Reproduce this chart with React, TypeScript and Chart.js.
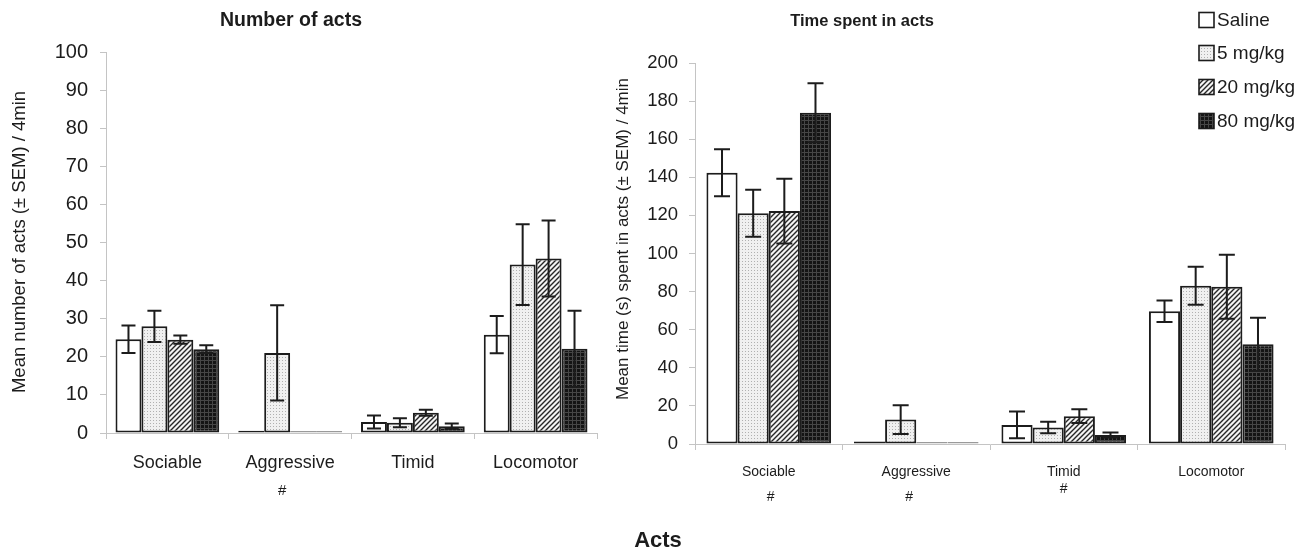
import React, { useEffect, useRef } from 'react';
import { Chart, registerables } from 'chart.js';

Chart.register(...registerables);

// ---------- data ----------
const categories = ['Sociable', 'Aggressive', 'Timid', 'Locomotor'];
const groups = ['Saline', '5 mg/kg', '20 mg/kg', '80 mg/kg'];

// Number of acts (left panel)
const actsSaline = [24.6, 0.6, 2.9, 25.8];
const acts5 = [28.0, 21.0, 2.7, 44.2];
const acts20 = [24.5, 0, 5.3, 45.8];
const acts80 = [22.0, 0, 1.8, 22.1];
const actsSalineErr = [3.6, 0, 1.7, 4.9];
const acts5Err = [4.1, 12.5, 1.2, 10.6];
const acts20Err = [1.1, 0, 0.8, 10.0];
const acts80Err = [1.0, 0, 0.7, 10.0];
const actsMax = 100;
const actsStep = 10;
const actsHashes = ['Aggressive'];

// Time spent in acts (right panel)
const timeSaline = [142.4, 1.3, 10.0, 69.7];
const time5 = [121.1, 12.8, 8.7, 83.1];
const time20 = [122.3, 0, 14.6, 82.6];
const time80 = [173.9, 0, 4.7, 52.3];
const timeSalineErr = [12.3, 0, 7.0, 5.6];
const time5Err = [12.3, 7.5, 3.0, 10.0];
const time20Err = [17.0, 0, 3.6, 16.8];
const time80Err = [15.5, 0, 1.3, 14.0];
const timeMax = 200;
const timeStep = 20;
const timeHashes = ['Sociable', 'Aggressive', 'Timid'];

// ---------- styling ----------
const SANS = "'Liberation Sans', Arial, sans-serif";
const AXIS_GREY = '#c4c4c4';
const INK = '#1c1c1c';

function makePattern(kind: number): CanvasPattern | string {
  const c = document.createElement('canvas');
  const g = c.getContext('2d')!;
  if (kind === 0) return '#ffffff';
  if (kind === 1) {
    c.width = 3; c.height = 3;
    g.fillStyle = '#f0f0f0'; g.fillRect(0, 0, 3, 3);
    g.fillStyle = '#b0b0b0'; g.fillRect(1, 1, 1, 1);
  } else if (kind === 2) {
    c.width = 5; c.height = 5;
    g.fillStyle = '#f4f4f4'; g.fillRect(0, 0, 5, 5);
    g.strokeStyle = '#262626'; g.lineWidth = 1.4;
    g.beginPath();
    g.moveTo(-1, 6); g.lineTo(6, -1);
    g.moveTo(-1, 1); g.lineTo(1, -1);
    g.moveTo(4, 6); g.lineTo(6, 4);
    g.stroke();
  } else {
    c.width = 4; c.height = 4;
    g.fillStyle = '#141414'; g.fillRect(0, 0, 4, 4);
    g.fillStyle = '#464646'; g.fillRect(0, 0, 4, 1); g.fillRect(0, 0, 1, 4);
  }
  return g.createPattern(c, 'repeat')!;
}

type TextItem = { text: string; x: number; y: number; font: string; rotate?: boolean };

type PanelCfg = {
  values: number[][];
  errors: number[][];
  max: number;
  step: number;
  padTop: number;
  padRight: number;
  yWidth: number;
  xHeight: number;
  yTickFont: number;
  yTickPad: number;
  xTickFont: number;
  xTickPad: number;
  capHalf: number;
  texts: TextItem[];
  hashes: string[];
  hashOffsets: number[];
  hashY: number[];
  hashFont: string;
  legend?: { boxX: number; textX: number; rows: number[]; size: number; font: string };
};

function buildChart(canvas: HTMLCanvasElement, cfg: PanelCfg) {
  const fills = [0, 1, 2, 3].map(makePattern);

  const errorBars = {
    id: 'errorBars',
    afterDatasetsDraw(chart: any) {
      const ctx = chart.ctx;
      const y = chart.scales.y;
      ctx.save();
      ctx.strokeStyle = INK;
      ctx.lineWidth = 2;
      cfg.values.forEach((vals, i) => {
        const meta = chart.getDatasetMeta(i);
        meta.data.forEach((bar: any, j: number) => {
          const e = cfg.errors[i][j];
          if (!e) return;
          const v = vals[j];
          const top = y.getPixelForValue(v + e);
          const bot = y.getPixelForValue(Math.max(v - e, 0));
          const x = bar.x;
          ctx.beginPath();
          ctx.moveTo(x, top); ctx.lineTo(x, bot);
          ctx.moveTo(x - cfg.capHalf, top); ctx.lineTo(x + cfg.capHalf, top);
          ctx.moveTo(x - cfg.capHalf, bot); ctx.lineTo(x + cfg.capHalf, bot);
          ctx.stroke();
        });
      });
      ctx.restore();
    },
  };

  const annotations = {
    id: 'annotations',
    afterDraw(chart: any) {
      const ctx = chart.ctx;
      const xs = chart.scales.x;
      ctx.save();
      ctx.fillStyle = INK;
      ctx.textAlign = 'center';
      ctx.textBaseline = 'middle';
      cfg.texts.forEach((t) => {
        ctx.font = t.font;
        if (t.rotate) {
          ctx.save();
          ctx.translate(t.x, t.y);
          ctx.rotate(-Math.PI / 2);
          ctx.fillText(t.text, 0, 0);
          ctx.restore();
        } else {
          ctx.fillText(t.text, t.x, t.y);
        }
      });
      ctx.font = cfg.hashFont;
      cfg.hashes.forEach((cat, k) => {
        const idx = categories.indexOf(cat);
        const px = xs.getPixelForValue(idx) + cfg.hashOffsets[k];
        ctx.fillText('#', px, cfg.hashY[k]);
      });
      if (cfg.legend) {
        const L = cfg.legend;
        ctx.textAlign = 'left';
        ctx.font = L.font;
        groups.forEach((g, i) => {
          const cy = L.rows[i];
          ctx.fillStyle = fills[i] as any;
          ctx.fillRect(L.boxX, cy - L.size / 2, L.size, L.size);
          ctx.strokeStyle = INK;
          ctx.lineWidth = 1.6;
          ctx.strokeRect(L.boxX, cy - L.size / 2, L.size, L.size);
          ctx.fillStyle = INK;
          ctx.fillText(g, L.textX, cy + 1);
        });
      }
      ctx.restore();
    },
  };

  return new Chart(canvas, {
    type: 'bar',
    data: {
      labels: categories,
      datasets: cfg.values.map((vals, i) => ({
        label: groups[i],
        data: vals,
        backgroundColor: fills[i] as any,
        borderColor: (c: any) => (c.raw === 0 ? '#9a9a9a' : INK),
        borderWidth: 2,
        borderSkipped: false,
        minBarLength: 2,
        categoryPercentage: 0.845,
        barPercentage: 1,
      })),
    },
    options: {
      animation: false,
      responsive: false,
      maintainAspectRatio: false,
      events: [],
      layout: { padding: { top: cfg.padTop, right: cfg.padRight, left: 0, bottom: 0 } },
      plugins: {
        legend: { display: false },
        tooltip: { enabled: false },
        title: { display: false },
      },
      scales: {
        x: {
          grid: {
            display: true,
            drawOnChartArea: false,
            drawTicks: true,
            tickLength: 6,
            color: AXIS_GREY,
            offset: true,
          },
          border: { display: true, color: AXIS_GREY, width: 1 },
          ticks: {
            color: INK,
            font: { family: SANS, size: cfg.xTickFont },
            padding: cfg.xTickPad,
            maxRotation: 0,
            autoSkip: false,
          },
          afterFit: (s: any) => { s.height = cfg.xHeight; },
        },
        y: {
          min: 0,
          max: cfg.max,
          grid: {
            display: true,
            drawOnChartArea: false,
            drawTicks: true,
            tickLength: 6,
            color: AXIS_GREY,
          },
          border: { display: true, color: AXIS_GREY, width: 1 },
          ticks: {
            stepSize: cfg.step,
            color: INK,
            font: { family: SANS, size: cfg.yTickFont },
            padding: cfg.yTickPad,
          },
          afterFit: (s: any) => { s.width = cfg.yWidth; },
        },
      },
    } as any,
    plugins: [errorBars, annotations],
  });
}

export default function App() {
  const leftRef = useRef<HTMLCanvasElement>(null);
  const rightRef = useRef<HTMLCanvasElement>(null);

  useEffect(() => {
    const left = buildChart(leftRef.current!, {
      values: [actsSaline, acts5, acts20, acts80],
      errors: [actsSalineErr, acts5Err, acts20Err, acts80Err],
      max: actsMax,
      step: actsStep,
      padTop: 44,
      padRight: 3,
      yWidth: 98,
      xHeight: 115,
      yTickFont: 20,
      yTickPad: 12,
      xTickFont: 18,
      xTickPad: 13,
      capHalf: 7,
      texts: [
        { text: 'Number of acts', x: 283, y: 13, font: `bold 19.5px ${SANS}` },
        { text: 'Mean number of acts (± SEM) / 4min', x: 12, y: 234, font: `18.5px ${SANS}`, rotate: true },
      ],
      hashes: actsHashes,
      hashOffsets: [-8],
      hashY: [483],
      hashFont: `15px ${SANS}`,
    });
    const right = buildChart(rightRef.current!, {
      values: [timeSaline, time5, time20, time80],
      errors: [timeSalineErr, time5Err, time20Err, time80Err],
      max: timeMax,
      step: timeStep,
      padTop: 55,
      padRight: 31,
      yWidth: 95,
      xHeight: 104,
      yTickFont: 18.5,
      yTickPad: 11,
      xTickFont: 14,
      xTickPad: 14,
      capHalf: 8,
      texts: [
        { text: 'Time spent in acts', x: 262, y: 13, font: `bold 16.5px ${SANS}` },
        { text: 'Mean time (s) spent in acts (± SEM) / 4min', x: 23, y: 231, font: `17px ${SANS}`, rotate: true },
        { text: 'Acts', x: 58, y: 533, font: `bold 22px ${SANS}` },
      ],
      hashes: timeHashes,
      hashOffsets: [2, -7, 0],
      hashY: [489, 489, 481],
      hashFont: `14px ${SANS}`,
      legend: { boxX: 599, textX: 617, rows: [12, 45, 79, 113], size: 15, font: `19px ${SANS}` },
    });
    return () => {
      left.destroy();
      right.destroy();
    };
  }, []);

  return (
    <div style={{ position: 'relative', width: 1300, height: 540, background: '#fff' }}>
      <canvas ref={leftRef} width={592} height={540} style={{ position: 'absolute', left: 0, top: 0, width: 592, height: 540 }} />
      <canvas ref={rightRef} width={716} height={540} style={{ position: 'absolute', left: 592, top: 0, width: 716, height: 540 }} />
    </div>
  );
}
